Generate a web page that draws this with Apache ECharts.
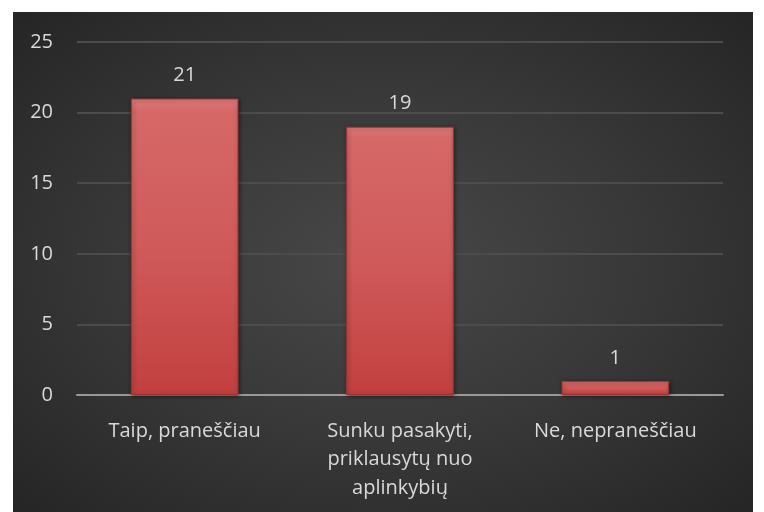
<!DOCTYPE html>
<html>
<head>
<meta charset="utf-8">
<script src="https://cdn.jsdelivr.net/npm/echarts@6/dist/echarts.min.js"></script>
<style>
  html, body { margin: 0; padding: 0; background: #fff; }
  #chart {
    position: absolute; left: 13px; top: 12px; width: 740px; height: 500px;
    background: radial-gradient(ellipse at 50% 50%, #484848 0%, #383838 50%, #252525 100%);
  }
</style>
</head>
<body>
<div id="chart"></div>
<script>
var categories = ['Taip, praneščiau', 'Sunku pasakyti,\npriklausytų nuo\naplinkybių', 'Ne, nepraneščiau'];
var values = [21, 19, 1];
var yTicks = { min: 0, max: 25, interval: 5 };

var chart = echarts.init(document.getElementById('chart'));
var font = 'Open Sans';
var option = {
  backgroundColor: 'transparent',
  textStyle: { fontFamily: font },
  grid: { left: 64, right: 30, top: 30, bottom: 117 },
  xAxis: {
    type: 'category',
    data: categories,
    axisTick: { show: false },
    axisLine: { show: true, lineStyle: { color: '#999999', width: 2 } },
    axisLabel: { color: '#d9d9d9', fontSize: 20, margin: 22, lineHeight: 28.5, interval: 0 }
  },
  yAxis: {
    type: 'value',
    min: yTicks.min, max: yTicks.max, interval: yTicks.interval,
    axisLine: { show: false },
    axisTick: { show: false },
    axisLabel: { color: '#d9d9d9', fontSize: 20, margin: 24 },
    splitLine: { lineStyle: { color: '#4c4c4c', width: 2 } }
  },
  series: [{
    type: 'bar',
    data: values,
    barWidth: '50%',
    itemStyle: {
      color: {
        type: 'linear', x: 0, y: 0, x2: 0, y2: 1,
        colorStops: [
          { offset: 0, color: '#e07c7c' },
          { offset: 0.04, color: '#d66868' },
          { offset: 0.5, color: '#d05a5a' },
          { offset: 1, color: '#c2403f' }
        ]
      },
      borderColor: '#9a3535',
      borderWidth: 1,
      shadowColor: 'rgba(0,0,0,0.5)',
      shadowBlur: 4,
      shadowOffsetX: 1,
      shadowOffsetY: 1
    },
    label: {
      show: true, position: 'top', distance: 13,
      color: '#d9d9d9', fontSize: 20
    }
  }]
};
chart.setOption(option);
</script>
</body>
</html>
